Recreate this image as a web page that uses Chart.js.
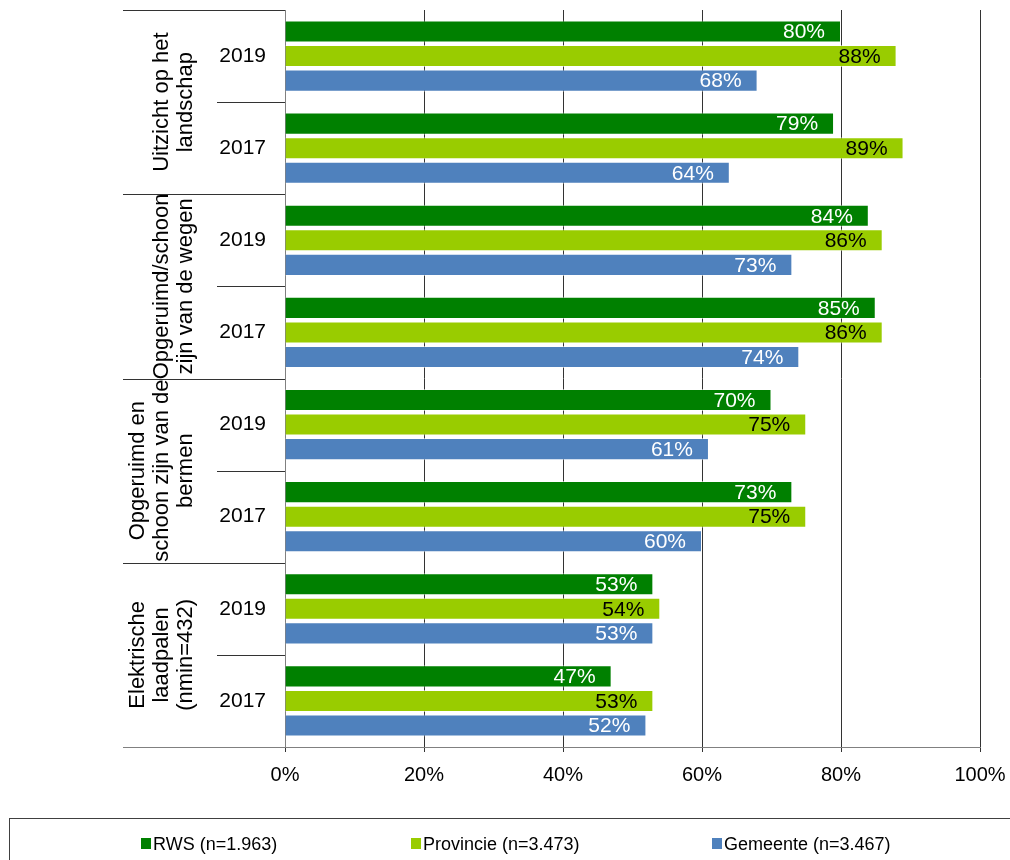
<!DOCTYPE html>
<html>
<head>
<meta charset="utf-8">
<script src="https://cdn.jsdelivr.net/npm/chart.js@4.4.1/dist/chart.umd.min.js"></script>
<style>
  html, body { margin: 0; padding: 0; background: #fff; }
  #wrap { width: 1010px; height: 860px; }
</style>
</head>
<body>
<div id="wrap"><canvas id="chart" width="1010" height="860"></canvas></div>
<script>
// rows (top to bottom)
var years = ['2019', '2017', '2019', '2017', '2019', '2017', '2019', '2017'];
var groupLabels = [
    ['Uitzicht op het', 'landschap'],
    ['Opgeruimd/schoon', 'zijn van de wegen'],
    ['Opgeruimd en', 'schoon zijn van de', 'bermen'],
    ['Elektrische', 'laadpalen', '(nmin=432)']
];
var seriesNames = ['RWS (n=1.963)', 'Provincie (n=3.473)', 'Gemeente (n=3.467)'];
var rws = [80, 79, 84, 85, 70, 73, 53, 47];
var provincie = [88, 89, 86, 86, 75, 75, 54, 53];
var gemeente = [68, 64, 73, 74, 61, 60, 53, 52];
var xTicks = [0, 20, 40, 60, 80, 100];

var colors = ['#008000', '#99CC00', '#4F81BD'];
var labelColors = ['#ffffff', '#000000', '#ffffff'];
var legendX = [141, 411, 712];

var FONT = 'Arial, "Liberation Sans", sans-serif';

// value labels at the inner end of each bar
var barLabels = {
    id: 'barLabels',
    afterDatasetsDraw: function (chart) {
        var ctx = chart.ctx;
        ctx.save();
        ctx.font = '21px ' + FONT;
        ctx.textAlign = 'right';
        ctx.textBaseline = 'middle';
        chart.data.datasets.forEach(function (ds, di) {
            var meta = chart.getDatasetMeta(di);
            meta.data.forEach(function (bar, i) {
                ctx.fillStyle = labelColors[di];
                ctx.fillText(ds.data[i] + '%', bar.x - 16, bar.y + 1);
            });
        });
        ctx.restore();
    }
};

// group labels, separator lines and the boxed legend
var sideAndLegend = {
    id: 'sideAndLegend',
    afterDraw: function (chart) {
        var ctx = chart.ctx;
        var area = chart.chartArea;
        var rowH = (area.bottom - area.top) / years.length;
        ctx.save();

        // separators on the left
        ctx.lineWidth = 1;
        for (var i = 0; i <= years.length; i++) {
            var y = Math.round(area.top + i * rowH) + 0.5;
            ctx.strokeStyle = (i === years.length) ? '#808080' : '#333333';
            ctx.beginPath();
            ctx.moveTo(i % 2 === 0 ? 123 : 217, y);
            ctx.lineTo(area.left, y);
            ctx.stroke();
        }

        // rotated group labels
        ctx.fillStyle = '#000';
        ctx.font = '22px ' + FONT;
        ctx.textAlign = 'center';
        ctx.textBaseline = 'middle';
        groupLabels.forEach(function (lines, g) {
            var cy = area.top + (g * 2 + 1) * rowH;
            var n = lines.length;
            lines.forEach(function (txt, k) {
                var cx = 186 - (n - 1 - k) * 24;
                ctx.save();
                ctx.translate(cx, cy);
                ctx.rotate(-Math.PI / 2);
                ctx.fillText(txt, 0, 0);
                ctx.restore();
            });
        });

        // legend box
        ctx.strokeStyle = '#404040';
        ctx.strokeRect(9.5, 818.5, 1010, 60);
        ctx.font = '18px ' + FONT;
        ctx.textAlign = 'left';
        ctx.textBaseline = 'alphabetic';
        seriesNames.forEach(function (name, s) {
            ctx.fillStyle = colors[s];
            ctx.fillRect(legendX[s], 838, 10, 11);
            ctx.fillStyle = '#000';
            ctx.fillText(name, legendX[s] + 12, 850);
        });
        ctx.restore();
    }
};

var chart = new Chart(document.getElementById('chart'), {
    type: 'bar',
    data: {
        labels: years,
        datasets: [
            { label: seriesNames[0], data: rws, backgroundColor: colors[0] },
            { label: seriesNames[1], data: provincie, backgroundColor: colors[1] },
            { label: seriesNames[2], data: gemeente, backgroundColor: colors[2] }
        ]
    },
    options: {
        indexAxis: 'y',
        responsive: false,
        animation: false,
        datasets: {
            bar: {
                categoryPercentage: 0.8,
                barPercentage: 0.9,
                borderWidth: 1,
                borderColor: 'rgba(255,255,255,0.55)',
                borderSkipped: 'start'
            }
        },
        layout: { padding: { top: 10, right: 30, bottom: 0, left: 0 } },
        plugins: {
            legend: { display: false },
            tooltip: { enabled: false }
        },
        scales: {
            x: {
                min: 0,
                max: 100,
                afterBuildTicks: function (scale) {
                    scale.ticks = xTicks.map(function (v) { return { value: v }; });
                },
                afterFit: function (scale) {
                    scale.height = 113;
                    scale.paddingLeft = 0;
                    scale.paddingRight = 0;
                },
                ticks: {
                    color: '#000',
                    font: { family: FONT, size: 20 },
                    padding: 11,
                    callback: function (v) { return v + '%'; }
                },
                grid: { color: '#333333', lineWidth: 1, tickLength: 5, drawTicks: true },
                border: { color: '#808080' }
            },
            y: {
                afterFit: function (scale) {
                    scale.width = 285;
                    scale.paddingTop = 0;
                    scale.paddingBottom = 0;
                },
                ticks: {
                    color: '#000',
                    font: { family: FONT, size: 21 },
                    padding: 19
                },
                grid: { display: false, drawTicks: false },
                border: { color: '#808080' }
            }
        }
    },
    plugins: [barLabels, sideAndLegend]
});
</script>
</body>
</html>
